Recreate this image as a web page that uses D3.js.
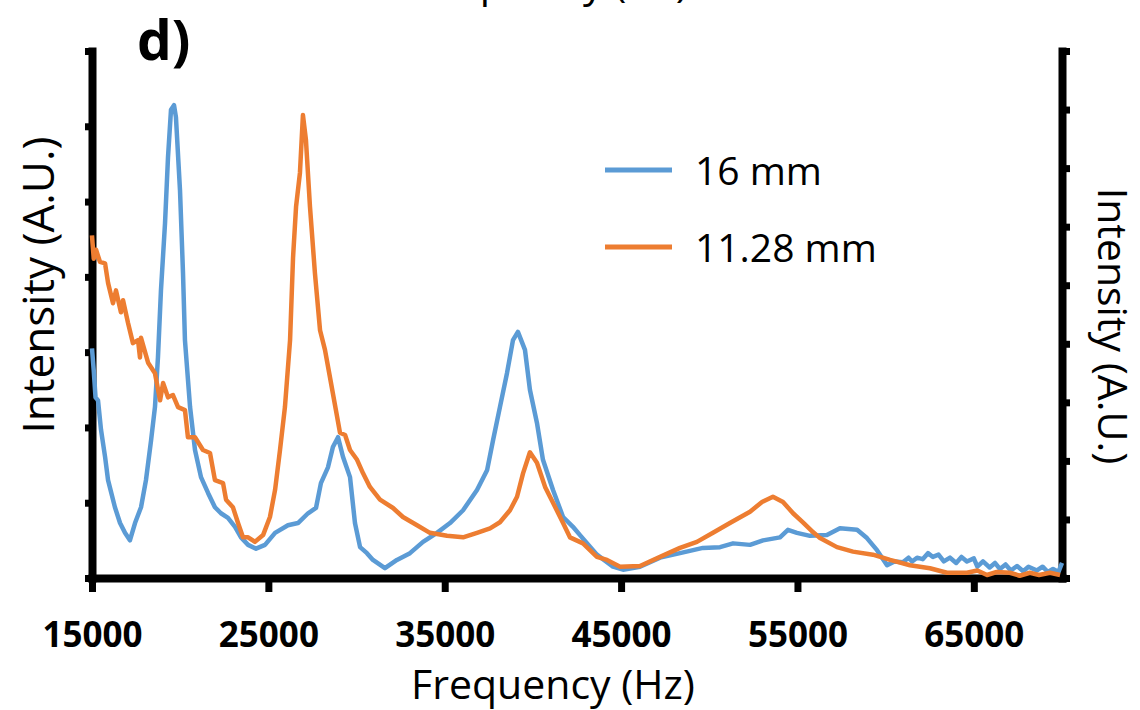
<!DOCTYPE html>
<html>
<head>
<meta charset="utf-8">
<script src="https://cdn.jsdelivr.net/npm/d3@7"></script>
<style>
    body { margin: 0; background: #fff; }
    text { font-family: "Open Sans", sans-serif; }
</style>
</head>
<body>
<div id="svg"></div>
<script>
// series (intensity in left-axis units, 0..7)
const seriesNames = ["16 mm", "11.28 mm"];
const xTicks = [15000, 25000, 35000, 45000, 55000, 65000];

const freq16 = [15000, 15100, 15200, 15340, 15510, 15740, 15910, 16300, 16590, 16870, 17150, 17440, 17780, 18060, 18350, 18570, 18740, 18910, 19140, 19310, 19480, 19650, 19760, 19990, 20160, 20270, 20560, 20840, 21180, 21580, 21970, 22310, 22710, 23110, 23450, 23850, 24300, 24810, 25380, 26110, 26680, 27250, 27700, 27980, 28380, 28660, 28950, 29230, 29630, 29910, 30200, 30590, 30930, 31610, 32290, 33030, 33770, 34560, 35300, 36040, 36830, 37400, 37740, 38130, 38530, 38870, 39150, 39550, 39830, 40230, 40570, 41140, 41710, 42270, 42670, 43630, 44540, 45110, 46070, 47210, 48340, 49640, 50610, 51350, 52310, 53050, 54010, 54460, 54970, 55710, 56670, 57410, 58380, 58940, 59510, 60080, 60500, 60980, 61300, 61500, 61780, 62100, 62400, 62680, 63000, 63300, 63650, 64000, 64300, 64610, 65000, 65200, 65520, 65900, 66200, 66480, 66800, 67100, 67450, 67800, 68100, 68580, 68900, 69200, 69490, 69800, 70000];
const int16 = [3.05, 2.75, 2.40, 2.36, 1.97, 1.61, 1.30, 0.94, 0.73, 0.60, 0.50, 0.73, 0.94, 1.30, 1.83, 2.27, 2.93, 3.82, 4.71, 5.59, 6.22, 6.28, 6.12, 5.15, 4.05, 3.16, 2.27, 1.70, 1.34, 1.13, 0.94, 0.86, 0.80, 0.68, 0.54, 0.44, 0.39, 0.44, 0.60, 0.70, 0.73, 0.86, 0.93, 1.26, 1.47, 1.74, 1.87, 1.61, 1.34, 0.73, 0.41, 0.33, 0.24, 0.13, 0.24, 0.33, 0.48, 0.60, 0.73, 0.90, 1.17, 1.43, 1.83, 2.27, 2.72, 3.16, 3.27, 3.03, 2.50, 2.06, 1.57, 1.17, 0.81, 0.68, 0.57, 0.31, 0.15, 0.11, 0.15, 0.27, 0.33, 0.40, 0.41, 0.46, 0.44, 0.50, 0.54, 0.64, 0.60, 0.56, 0.57, 0.66, 0.64, 0.53, 0.37, 0.17, 0.22, 0.21, 0.27, 0.22, 0.27, 0.25, 0.33, 0.28, 0.31, 0.22, 0.27, 0.20, 0.28, 0.22, 0.26, 0.15, 0.22, 0.14, 0.20, 0.12, 0.18, 0.10, 0.16, 0.09, 0.15, 0.10, 0.15, 0.08, 0.12, 0.08, 0.20];

const freq1128 = [15000, 15030, 15100, 15230, 15450, 15740, 15910, 16190, 16360, 16640, 16760, 17040, 17320, 17610, 17720, 17780, 18180, 18570, 18860, 19030, 19310, 19590, 19880, 20270, 20440, 20840, 21290, 21690, 21970, 22430, 22600, 22990, 23280, 23560, 23850, 24240, 24700, 25090, 25380, 25660, 25940, 26230, 26400, 26570, 26790, 26960, 27130, 27360, 27640, 27930, 28210, 28490, 28830, 29060, 29350, 29630, 30030, 30370, 30760, 31330, 32070, 32630, 33430, 34160, 35130, 36040, 36830, 37570, 38130, 38700, 39100, 39440, 39830, 40230, 40690, 41140, 41710, 42100, 42840, 43630, 44200, 44940, 46070, 47210, 48340, 49300, 50210, 51170, 52310, 52990, 53610, 54180, 54750, 55310, 55880, 56280, 57240, 58150, 59280, 60250, 61380, 62510, 63480, 64610, 65200, 65750, 66300, 67050, 67600, 68180, 68700, 69320, 69890];
const int1128 = [4.55, 4.45, 4.24, 4.36, 4.20, 4.18, 3.92, 3.65, 3.82, 3.53, 3.69, 3.39, 3.12, 3.16, 2.93, 3.19, 2.86, 2.72, 2.36, 2.59, 2.40, 2.43, 2.27, 2.23, 1.87, 1.87, 1.70, 1.66, 1.30, 1.26, 1.04, 0.94, 0.73, 0.54, 0.54, 0.48, 0.57, 0.81, 1.17, 1.70, 2.27, 3.16, 4.26, 4.93, 5.38, 6.15, 5.82, 4.93, 4.05, 3.29, 3.03, 2.67, 2.23, 1.93, 1.90, 1.70, 1.57, 1.39, 1.21, 1.04, 0.93, 0.81, 0.70, 0.60, 0.56, 0.54, 0.60, 0.66, 0.74, 0.90, 1.08, 1.39, 1.67, 1.53, 1.21, 1.00, 0.73, 0.54, 0.46, 0.28, 0.24, 0.15, 0.16, 0.28, 0.40, 0.48, 0.60, 0.73, 0.88, 1.01, 1.08, 1.01, 0.86, 0.74, 0.61, 0.53, 0.41, 0.35, 0.31, 0.24, 0.17, 0.13, 0.07, 0.07, 0.10, 0.04, 0.08, 0.07, 0.03, 0.07, 0.04, 0.07, 0.04];

const colors = ["#5b9bd5", "#ed7d31"];

const width = 1140,
    height = 710,
    margin = { top: 51, right: 78, bottom: 132, left: 92 };

const xScale = d3.scaleLinear()
    .domain([15000, 70000])
    .range([margin.left, width - margin.right]);

const yLeft = d3.scaleLinear()
    .domain([0, 7])
    .range([height - margin.bottom, margin.top]);

const yRight = d3.scaleLinear()
    .domain([0, 9])
    .range([height - margin.bottom, margin.top]);

const svg = d3.select("#svg")
    .append("svg")
    .attr("width", width)
    .attr("height", height);

// cut-off title of the panel above
svg.append("text")
    .attr("x", 404)
    .attr("y", -3)
    .attr("font-size", 41)
    .text("Frequency (Hz)");

// axes
const yAxisL = svg.append("g")
    .attr("transform", `translate(${margin.left},0)`)
    .call(d3.axisLeft(yLeft).ticks(7).tickSize(7).tickSizeOuter(0).tickFormat(""));

const yAxisR = svg.append("g")
    .attr("transform", `translate(${width - margin.right},0)`)
    .call(d3.axisRight(yRight).ticks(9).tickSize(8).tickSizeOuter(0).tickFormat(""));

const xAxis = svg.append("g")
    .attr("transform", `translate(0,${height - margin.bottom})`)
    .call(d3.axisBottom(xScale).tickValues(xTicks).tickSize(14).tickSizeOuter(0).tickFormat(d3.format("d")));

[yAxisL, yAxisR, xAxis].forEach(g => {
    g.select(".domain")
        .attr("stroke", "#000")
        .attr("stroke-width", 8)
        .attr("stroke-linecap", "square");
    g.selectAll(".tick line")
        .attr("stroke", "#000")
        .attr("stroke-width", 7);
});

xAxis.selectAll(".tick text")
    .attr("y", 69)
    .attr("dy", 0)
    .attr("font-size", 35)
    .attr("font-weight", "bold")
    .attr("font-family", "'Open Sans', sans-serif")
    .attr("fill", "#000");

// lines drawn over the axes, as in the original
const series = [
    d3.zip(freq16, int16),
    d3.zip(freq1128, int1128)
];

const line = d3.line()
    .x(d => xScale(d[0]))
    .y(d => yLeft(d[1]));

svg.append("g")
    .selectAll("path")
    .data(series)
    .join("path")
    .attr("fill", "none")
    .attr("stroke", (d, i) => colors[i])
    .attr("stroke-width", 4.5)
    .attr("stroke-linejoin", "round")
    .attr("d", line);

// axis titles
svg.append("text")
    .attr("x", 553)
    .attr("y", 699)
    .attr("text-anchor", "middle")
    .attr("font-size", 41)
    .text("Frequency (Hz)");

svg.append("text")
    .attr("transform", "translate(54,285) rotate(-90)")
    .attr("text-anchor", "middle")
    .attr("font-size", 44)
    .text("Intensity (A.U.)");

svg.append("text")
    .attr("transform", "translate(1098,326) rotate(90)")
    .attr("text-anchor", "middle")
    .attr("font-size", 41)
    .text("Intensity (A.U.)");

// panel label
svg.append("text")
    .attr("x", 137)
    .attr("y", 60)
    .attr("font-size", 55)
    .attr("font-weight", "bold")
    .text("d)");

// legend
const legend = svg.append("g")
    .selectAll("g")
    .data(seriesNames)
    .join("g")
    .attr("transform", (d, i) => `translate(605,${170 + i * 77})`);

legend.append("line")
    .attr("x1", 0)
    .attr("x2", 67)
    .attr("stroke", (d, i) => colors[i])
    .attr("stroke-width", 5);

legend.append("text")
    .attr("x", 90)
    .attr("y", 15)
    .attr("font-size", 39)
    .text(d => d);
</script>
</body>
</html>
